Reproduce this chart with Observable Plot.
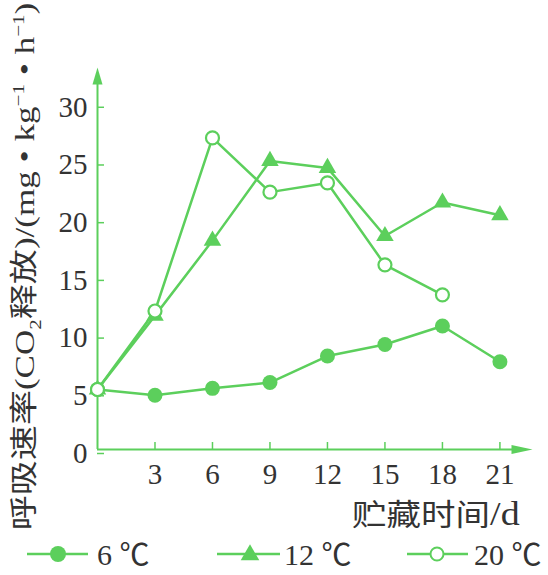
<!DOCTYPE html>
<html><head><meta charset="utf-8">
<script src="https://cdn.jsdelivr.net/npm/d3@7"></script>
<script src="https://cdn.jsdelivr.net/npm/@observablehq/plot@0.6"></script>
<style>
body{margin:0;background:#fff;}
#wrap{position:relative;width:548px;height:575px;overflow:hidden;background:#fff;}
#wrap > svg{position:absolute;left:0;top:0;}
.txt{position:absolute;white-space:nowrap;color:#333;font-family:'Liberation Serif','Noto Sans CJK SC',serif;line-height:1;}
.cjk{font-family:'Noto Sans CJK SC',sans-serif;}
#ylab{font-size:28px;}
#xlab{font-size:30px;}
.legsw{position:absolute;}
.legtx{position:absolute;top:540px;font-size:30px;line-height:30px;color:#333;font-family:'Liberation Serif','Noto Sans CJK SC',serif;white-space:nowrap;}
</style></head><body><div id="wrap"></div>
<script>
// ---- data ----
const days = [0, 3, 6, 9, 12, 15, 18, 21];
const temp6 = [5.2, 4.7, 5.3, 5.8, 8.1, 9.1, 10.7, 7.6];
const temp12 = [5.2, 11.6, 18.1, 25.0, 24.4, 18.5, 21.4, 20.3];
const temp20 = [5.2, 12.0, 27.0, 22.3, 23.1, 16.0, 13.4];
const seriesNames = ["6 ℃", "12 ℃", "20 ℃"];
const xTicks = [3, 6, 9, 12, 15, 18, 21];
const yTicks = [0, 5, 10, 15, 20, 25, 30];

const green = "#5ccf5c";
const xEnd = 22.7, yEnd = 33.1;

const rows = [];
[temp6, temp12, temp20].forEach((vals, i) => {
  vals.forEach((v, j) => rows.push({day: days[j], v, s: seriesNames[i]}));
});
const bySeries = name => rows.filter(d => d.s === name);

const arrowUp = {draw(ctx){ ctx.moveTo(0,0); ctx.lineTo(-5,17); ctx.lineTo(5,17); ctx.closePath(); }};
const arrowRight = {draw(ctx){ ctx.moveTo(0,0); ctx.lineTo(-21,-4.5); ctx.lineTo(-21,4.5); ctx.closePath(); }};

const chart = Plot.plot({
  width: 548, height: 575,
  marginLeft: 97, marginRight: 16, marginTop: 67, marginBottom: 126,
  x: {domain: [0, xEnd]},
  y: {domain: [0, yEnd]},
  style: {fontFamily: "'Liberation Serif', serif", fontSize: "29px", color: "#333", background: "transparent", overflow: "visible"},
  marks: [
    Plot.ruleY([0], {x1: 0, x2: xEnd - 0.6, stroke: green, strokeWidth: 2}),
    Plot.ruleX([0], {y1: 0, y2: yEnd - 1, stroke: green, strokeWidth: 2}),
    Plot.dot([{x: xEnd, y: 0}], {x: "x", y: "y", symbol: arrowRight, fill: green, stroke: "none"}),
    Plot.dot([{x: 0, y: yEnd}], {x: "x", y: "y", symbol: arrowUp, fill: green, stroke: "none"}),
    Plot.axisX(xTicks, {tickSize: -7, tickPadding: 21, stroke: green, strokeWidth: 1.5, fill: "#333", label: null}),
    Plot.axisY(yTicks, {tickSize: -7, tickPadding: 17, stroke: green, strokeWidth: 1.5, fill: "#333", label: null, dy: 4}),
    Plot.line(rows, {x: "day", y: "v", z: "s", stroke: green, strokeWidth: 2.5}),
    Plot.dot(bySeries(seriesNames[0]), {x: "day", y: "v", r: 7.5, symbol: "circle", fill: green, stroke: "none"}),
    Plot.dot(bySeries(seriesNames[1]), {x: "day", y: "v", r: 6.5, symbol: "triangle", fill: green, stroke: "none"}),
    Plot.dot(bySeries(seriesNames[2]), {x: "day", y: "v", r: 6.5, symbol: "circle", fill: "white", stroke: green, strokeWidth: 2.2})
  ]
});

const wrap = document.getElementById("wrap");
wrap.appendChild(chart);

// y-axis title: rotated, stretched to span its reference length
const ylab = document.createElement("div");
ylab.id = "ylab"; ylab.className = "txt";
ylab.innerHTML = '<span class="cjk">呼吸速率</span>(CO<sub style="font-size:60%;line-height:0">2</sub><span class="cjk">释放</span>)/(mg • kg<sup style="font-size:60%;line-height:0">−1</sup> • h<sup style="font-size:60%;line-height:0">−1</sup>)';
wrap.appendChild(ylab);
{
  const w = ylab.offsetWidth, h = ylab.offsetHeight;
  const s = 528 / w;
  ylab.style.left = (24 - w / 2) + "px";
  ylab.style.top = (266 - h / 2) + "px";
  ylab.style.transform = "rotate(-90deg) scaleX(" + s + ")";
}

const xlab = document.createElement("div");
xlab.id = "xlab"; xlab.className = "txt";
xlab.innerHTML = '<span class="cjk">贮藏时间</span><span style="font-size:33px">/d</span>';
wrap.appendChild(xlab);
{
  const w = xlab.offsetWidth;
  xlab.style.left = "352px";
  xlab.style.top = "497px";
  xlab.style.transformOrigin = "0 0";
  xlab.style.transform = "scaleX(" + (168 / w) + ")";
}

// legend
const legend = [
  {x0: 27, x1: 88, cx: 58, tx: 97, mark: cx => '<circle cx="' + cx + '" cy="15" r="8" fill="' + green + '"/>'},
  {x0: 217, x1: 280, cx: 250, tx: 284, mark: cx => '<path d="' + d3.symbol(d3.symbolTriangle, 150)() + '" transform="translate(' + cx + ',16)" fill="' + green + '"/>'},
  {x0: 407, x1: 468, cx: 437, tx: 474, mark: cx => '<circle cx="' + cx + '" cy="15" r="6.5" fill="white" stroke="' + green + '" stroke-width="2"/>'}
];
seriesNames.forEach((name, i) => {
  const L = legend[i];
  const sw = document.createElementNS("http://www.w3.org/2000/svg", "svg");
  sw.setAttribute("class", "legsw");
  sw.setAttribute("width", L.x1 - L.x0);
  sw.setAttribute("height", 30);
  sw.style.left = L.x0 + "px";
  sw.style.top = "539px";
  sw.innerHTML = '<line x1="0" x2="' + (L.x1 - L.x0) + '" y1="15" y2="15" stroke="' + green + '" stroke-width="2.5"/>' + L.mark(L.cx - L.x0);
  wrap.appendChild(sw);
  const tx = document.createElement("div");
  tx.className = "legtx";
  tx.style.left = L.tx + "px";
  tx.textContent = name;
  wrap.appendChild(tx);
});
</script>
</body></html>
